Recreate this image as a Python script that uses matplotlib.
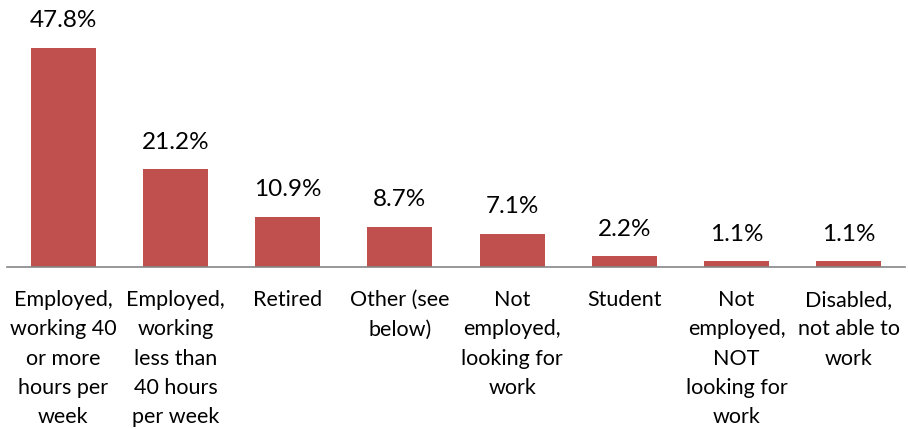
import matplotlib.pyplot as plt

plt.rcParams['font.family'] = ['Lato', 'DejaVu Sans']

categories = ['Employed,\nworking 40\nor more\nhours per\nweek',
              'Employed,\nworking\nless than\n40 hours\nper week',
              'Retired',
              'Other (see\nbelow)',
              'Not\nemployed,\nlooking for\nwork',
              'Student',
              'Not\nemployed,\nNOT\nlooking for\nwork',
              'Disabled,\nnot able to\nwork']
values = [47.8, 21.2, 10.9, 8.7, 7.1, 2.2, 1.1, 1.1]

fig = plt.figure(figsize=(9.08, 4.29), dpi=100)
ax = fig.add_axes([7/908, 1 - 266.5/429, 898/908, 266.5/429])

x = range(len(values))
bars = ax.bar(x, values, width=0.58, color='#C0504D')

for b, v in zip(bars, values):
    ax.annotate('%.1f%%' % v, (b.get_x() + b.get_width()/2, v),
                xytext=(0, 12), textcoords='offset points',
                ha='center', va='bottom', fontsize=17.5)

ax.set_xlim(-0.5, len(values) - 0.5)
ax.set_ylim(0, 58.2)
ax.set_xticks(list(x))
ax.set_xticklabels(categories, fontsize=15.5, linespacing=1.58)
ax.tick_params(axis='x', length=0, pad=17)
ax.set_yticks([])
for s in ['top', 'left', 'right']:
    ax.spines[s].set_visible(False)
ax.spines['bottom'].set_color('#868686')
ax.spines['bottom'].set_linewidth(1.2)

fig.savefig('out.png', dpi=100)
